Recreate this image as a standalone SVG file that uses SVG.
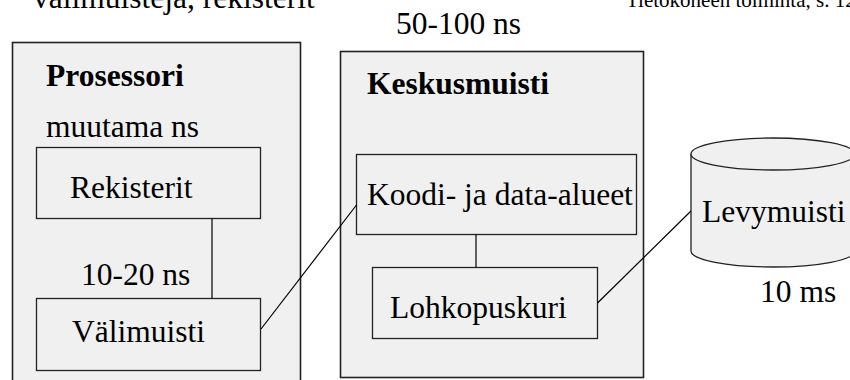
<svg xmlns="http://www.w3.org/2000/svg" width="850" height="380" viewBox="0 0 850 380" font-family="'Liberation Serif', 'Times New Roman', Times, serif">
<style>
text{font-family:'Liberation Serif','Times New Roman',Times,serif;font-size:31.5px;fill:#000}
.b{font-weight:bold}
.hdr{font-size:21px}
.outer{fill:#f0f0f0;stroke:#222;stroke-width:1.6}
.inner{fill:#f0f0f0;stroke:#222;stroke-width:1.3}
.conn line{stroke:#000;stroke-width:1.2}
</style>
<rect width="850" height="380" fill="#fff"/>
<text x="33" y="8">välimuisteja, rekisterit</text>
<text class="hdr" x="626" y="7">Tietokoneen toiminta, s. 12</text>
<text x="396" y="34">50-100 ns</text>
<g id="prosessori">
<rect class="outer" x="12.5" y="42.5" width="288" height="345"/>
<text class="b" x="46" y="86">Prosessori</text>
<text x="46" y="137">muutama ns</text>
</g>
<g id="rekisterit">
<rect class="inner" x="36.5" y="147.5" width="224" height="71"/>
<text x="70" y="198">Rekisterit</text>
</g>
<text x="81" y="285">10-20 ns</text>
<g id="valimuisti">
<rect class="inner" x="36.5" y="298.5" width="224" height="72"/>
<text x="72" y="342">Välimuisti</text>
</g>
<g id="keskusmuisti">
<rect class="outer" x="340.5" y="51.5" width="303" height="326"/>
<text class="b" x="367" y="94">Keskusmuisti</text>
</g>
<g id="koodi">
<rect class="inner" x="356.5" y="154.5" width="280" height="80"/>
<text x="367" y="205">Koodi- ja data-alueet</text>
</g>
<g id="lohkopuskuri">
<rect class="inner" x="372.5" y="267.5" width="225" height="71"/>
<text x="390" y="318">Lohkopuskuri</text>
</g>
<g id="levymuisti">
<path d="M691,154 L691,251 A82,16 0 0 0 855,251 L855,154" fill="#f0f0f0" stroke="#222" stroke-width="1.3"/>
<ellipse cx="773" cy="154" rx="82" ry="16" fill="#f0f0f0" stroke="#222" stroke-width="1.3"/>
<text x="702" y="222">Levymuisti</text>
</g>
<text x="760" y="302">10 ms</text>
<g class="conn" id="connectors">
<line x1="212" y1="218.5" x2="212" y2="298.5"/>
<line x1="476" y1="234.5" x2="476" y2="267.5"/>
<line x1="261" y1="329" x2="356.5" y2="205"/>
<line x1="597.5" y1="303" x2="691" y2="211"/>
</g>
</svg>
